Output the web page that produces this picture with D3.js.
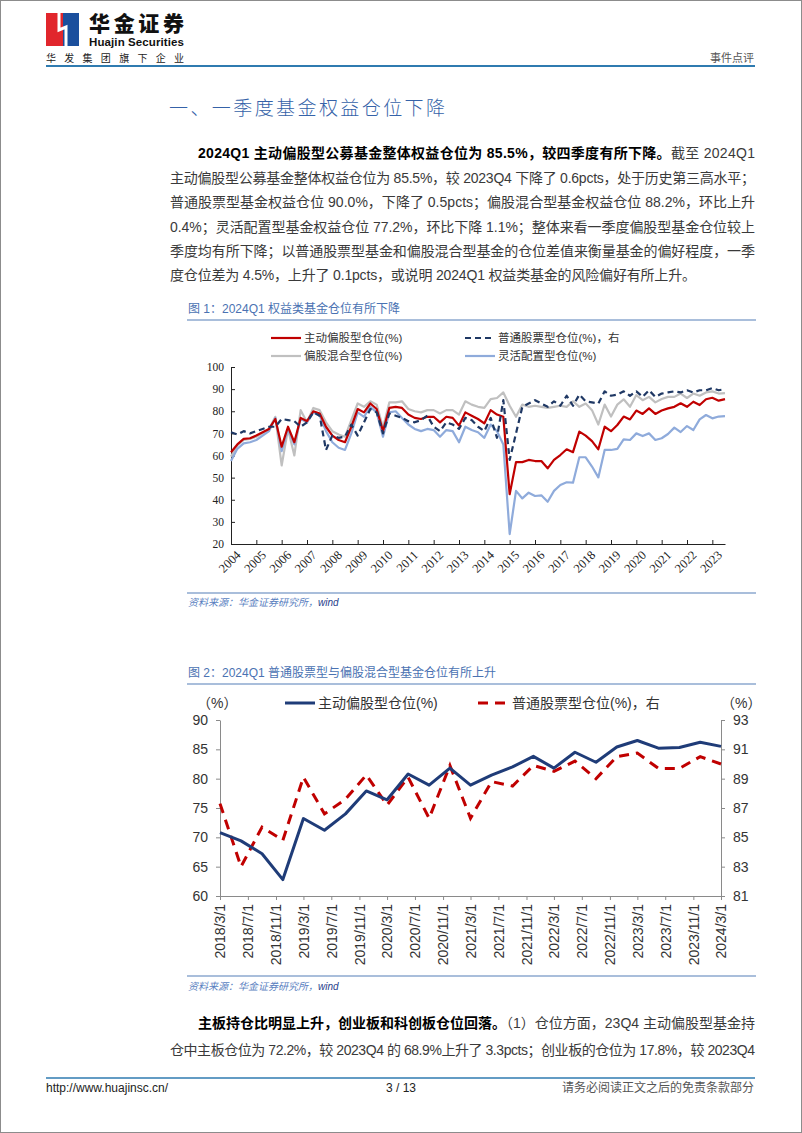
<!DOCTYPE html>
<html>
<head>
<meta charset="utf-8">
<script src="https://cdn.jsdelivr.net/npm/d3@7"></script>
<style>
  html, body { margin: 0; padding: 0; background: #fff; }
  svg { display: block; }
</style>
</head>
<body>
<svg id="page" width="802" height="1133"></svg>
<script>
// ---- figure 1 data : quarterly, 2004Q1 onwards ----
const fig1Start = 2004;
const fig1TickLabels = ['2004','2005','2006','2007','2008','2009','2010','2011','2012','2013',
                        '2014','2015','2016','2017','2018','2019','2020','2021','2022','2023'];
const fig1Active = [
  61.5, 65, 67.5, 67.8,   69, 70.5, 72, 76.5,   64, 73, 66, 77,   75.5, 80, 79, 73,
  69, 67, 66, 73,   81, 79.5, 83.5, 81,   71, 81.5, 82, 81.5,   78.5, 77, 76.5, 77.5,
  77.5, 75, 77.5, 77,   73.5, 79.5, 78, 76.5,   74.5, 80.5, 78.5, 77.5,   42.5, 57, 57, 58,
  57.5, 57.5, 54.2, 58,   60.2, 62.8, 61.5, 70.8,   69, 66.5, 62.8, 73,   71, 73.8, 77.6, 76.3,
  80.3, 78.8, 81.3, 78.8,   80.3, 81.3, 82, 83.6,   82, 84.3, 82.8, 85.4,   86.1, 84.8, 85.5
];
const fig1Hybrid = [
  59.5, 64.5, 67, 67.5,   68.5, 70, 72, 77.5,   55.5, 72, 60, 80.5,   75, 81.5, 80.5, 75,
  71, 69.5, 68.5, 76,   83.5, 82, 84.5, 83,   72.5, 84, 84, 84.5,   81, 80, 79.5, 80.5,
  80.5, 79, 80.5, 80.5,   78.5, 84.5, 83, 82,   81.5, 85.5, 86, 88.5,   82.5, 77.5, 83, 82,
  82.5, 82, 81.5, 82,   82.5, 82, 84.5, 82,   83.5, 80.5, 74, 83,   77.6, 83, 85.4, 82,
  87.3, 85, 86.5, 84,   85.5, 86.5, 86.5, 88,   86, 88, 87, 88.5,   89, 88, 88.2
];
const fig1Stock = [
  70.5, 69.5, 71, 70,   71, 72, 73, 73,   76.5, 76, 75.5, 73,   75, 79.5, 78, 62.5,
  69, 68, 68.5, 74,   69, 75, 81, 79.5,   70, 79, 78, 77,   75.5, 75, 76, 78,
  73, 71, 75, 74,   72, 77, 76, 73,   71, 77, 68, 85,   58, 70, 82, 83.5,
  85, 83.5, 82, 84.5,   82.5, 87, 82.5, 87.5,   84.5, 84, 83.5, 89,   87, 87.5, 89, 87,
  89, 86.5, 89.5, 86.5,   88, 88.5, 89, 88.5,   89.5, 88.5, 89.5, 89.5,   90.5, 89.5, 90
];
const fig1Flexible = [
  57.5, 63, 65.5, 66,   67, 69, 71, 77,   62, 72, 65, 76.5,   75, 79.5, 78, 71,
  66, 63.5, 62.5, 70,   79.5, 77.5, 82, 79.5,   68.5, 79.5, 80, 77,   74, 72, 71, 72,
  71.5, 68.5, 71.5, 71,   66, 73, 71.5, 70.5,   68, 74, 71, 65,   24.5, 44, 40.6, 43.2,
  41.7, 42, 39.1, 44,   46.7, 47.9, 47.7, 59.2,   59.2, 55, 50.1, 62.5,   62.5, 63, 67.3, 67,
  70, 68.8, 70, 67,   67.8, 69.7, 72.6, 70.6,   73.3, 71.5, 76.3, 78.3,   76.8, 77.6, 77.8
];
const fig1Names = ['主动偏股型仓位(%)', '普通股票型仓位(%)，右', '偏股混合型仓位(%)', '灵活配置型仓位(%)'];

// ---- figure 2 data : quarterly ----
const fig2Dates = ['2018-03-01','2018-06-01','2018-09-01','2018-12-01','2019-03-01','2019-06-01','2019-09-01',
                   '2019-12-01','2020-03-01','2020-06-01','2020-09-01','2020-12-01','2021-03-01','2021-06-01',
                   '2021-09-01','2021-12-01','2022-03-01','2022-06-01','2022-09-01','2022-12-01','2023-03-01',
                   '2023-06-01','2023-09-01','2023-12-01','2024-03-01'];
const fig2Active = [70.8, 69.4, 67.2, 62.8, 73.2, 71.2, 74, 77.9, 76.4, 80.8, 78.9, 81.8, 78.9,
                    80.6, 82, 83.8, 81.8, 84.5, 82.8, 85.4, 86.5, 85.2, 85.3, 86.2, 85.5];
const fig2Stock = [87.3, 83.0, 85.7, 84.8, 89.1, 86.6, 87.6, 89.25, 87.2, 89.1, 86.3, 89.9, 86.3,
                   88.8, 88.5, 89.9, 89.5, 90.2, 89.0, 90.5, 90.75, 89.7, 89.7, 90.5, 90.0];
const fig2TickLabels = ['2018/3/1','2018/7/1','2018/11/1','2019/3/1','2019/7/1','2019/11/1','2020/3/1',
                        '2020/7/1','2020/11/1','2021/3/1','2021/7/1','2021/11/1','2022/3/1','2022/7/1',
                        '2022/11/1','2023/3/1','2023/7/1','2023/11/1','2024/3/1'];
const fig2Names = ['主动偏股型仓位(%)', '普通股票型仓位(%)，右'];

const SANS = '"Liberation Sans", Arial, "Noto Sans CJK SC", sans-serif';
const SERIF = '"Liberation Serif", "Times New Roman", serif';
const svg = d3.select('#page');

// page frame
svg.append('rect').attr('x', 0.5).attr('y', 0.5).attr('width', 801).attr('height', 1132)
   .attr('fill', 'none').attr('stroke', '#8c8c8c');

// ---- header ----
const logo = svg.append('g');
logo.append('rect').attr('x', 46).attr('y', 13).attr('width', 17).attr('height', 33).attr('fill', '#e1262c');
logo.append('rect').attr('x', 63).attr('y', 13).attr('width', 16).attr('height', 33).attr('fill', '#1b4f9d');
logo.append('path').attr('d', 'M59,13 L59,30 L66,27 L66,46')
    .attr('fill', 'none').attr('stroke', '#fff').attr('stroke-width', 3);
svg.append('text').attr('x', 89).attr('y', 31).text('华金证券')
   .style('font-family', '"Noto Sans CJK SC", sans-serif').style('font-weight', 900)
   .style('font-size', '21px').attr('textLength', 95).attr('fill', '#111');
svg.append('text').attr('x', 89).attr('y', 46).text('Huajin Securities')
   .style('font-family', SANS).style('font-weight', 'bold').style('font-size', '11.5px')
   .attr('textLength', 95).attr('fill', '#111');
svg.append('text').attr('x', 46).attr('y', 62).text('华发集团旗下企业')
   .style('font-family', SANS).style('font-size', '10px').attr('textLength', 138).attr('fill', '#222');
svg.append('text').attr('x', 754).attr('y', 62).attr('text-anchor', 'end').text('事件点评')
   .style('font-family', SANS).style('font-size', '11px').attr('fill', '#555');
svg.append('line').attr('x1', 46).attr('x2', 755).attr('y1', 66).attr('y2', 66)
   .attr('stroke', '#2f7bb0').attr('stroke-width', 2);

svg.append('text').attr('x', 169).attr('y', 115).text('一、一季度基金权益仓位下降')
   .style('font-family', '"Noto Sans CJK SC", sans-serif').style('font-weight', 300)
   .style('font-size', '19px').attr('textLength', 276).attr('fill', '#3562a8');

// ---- body text ----
function textLine(x, y, parts, width) {
  const t = svg.append('text').attr('x', x).attr('y', y)
               .style('font-family', SANS).style('font-size', '14px');
  parts.forEach(p => {
    t.append('tspan').text(p[0])
     .attr('fill', p[1] ? '#000' : '#3a3a3a')
     .style('font-weight', p[1] ? 'bold' : 'normal');
  });
  if (width) t.attr('textLength', width).attr('lengthAdjust', 'spacing');
  return t;
}

textLine(198, 158, [['2024Q1 主动偏股型公募基金整体权益仓位为 85.5%，较四季度有所下降。', true], ['截至 2024Q1', false]], 557);
textLine(170, 182.5, [['主动偏股型公募基金整体权益仓位为 85.5%，较 2023Q4 下降了 0.6pcts，处于历史第三高水平；', false]], 585);
textLine(170, 207, [['普通股票型基金权益仓位 90.0%，下降了 0.5pcts；偏股混合型基金权益仓位 88.2%，环比上升', false]], 585);
textLine(170, 231.5, [['0.4%；灵活配置型基金权益仓位 77.2%，环比下降 1.1%；整体来看一季度偏股型基金仓位较上', false]], 585);
textLine(170, 256, [['季度均有所下降；以普通股票型基金和偏股混合型基金的仓位差值来衡量基金的偏好程度，一季', false]], 585);
textLine(170, 280, [['度仓位差为 4.5%，上升了 0.1pcts，或说明 2024Q1 权益类基金的风险偏好有所上升。', false]], 526);

textLine(198, 1028, [['主板持仓比明显上升，创业板和科创板仓位回落。', true], ['（1）仓位方面，23Q4 主动偏股型基金持', false]], 557);
textLine(170, 1055, [['仓中主板仓位为 72.2%，较 2023Q4 的 68.9%上升了 3.3pcts；创业板的仓位为 17.8%，较 2023Q4', false]], 585);

// chart frame helpers
function chartTitle(y, label, lineY) {
  svg.append('text').attr('x', 188).attr('y', y).text(label)
     .style('font-family', SANS).style('font-size', '12px').attr('fill', '#4a72b2');
  svg.append('line').attr('x1', 187).attr('x2', 756).attr('y1', lineY).attr('y2', lineY)
     .attr('stroke', '#a9bedb').attr('stroke-width', 2);
}
function chartSource(lineY, y) {
  svg.append('line').attr('x1', 187).attr('x2', 756).attr('y1', lineY).attr('y2', lineY)
     .attr('stroke', '#a9bedb').attr('stroke-width', 2);
  const t = svg.append('text').attr('x', 188).attr('y', y)
     .style('font-family', SANS).style('font-size', '10px').style('font-style', 'italic');
  t.append('tspan').text('资料来源：华金证券研究所，').attr('fill', '#5a7fbf');
  t.append('tspan').text('wind').attr('fill', '#1f3d8a');
}

// ---- figure 1 ----
chartTitle(313, '图 1：2024Q1 权益类基金仓位有所下降', 320);

const x1 = d3.scaleLinear().domain([0, 78]).range([231, 725]);
const y1 = d3.scaleLinear().domain([20, 100]).range([544, 367]);
const g1 = svg.append('g');

const ax1 = g1.append('g').attr('transform', 'translate(0,544)')
  .call(d3.axisBottom(x1).tickValues(d3.range(0, 77, 4)).tickSize(-4).tickSizeOuter(0)
          .tickFormat((d, i) => fig1TickLabels[i]));
ax1.selectAll('text').attr('transform', 'rotate(-45)').attr('text-anchor', 'end')
   .attr('dx', '-0.1em').attr('dy', '0.75em').attr('y', 6)
   .style('font-family', SERIF).style('font-size', '12.5px').attr('fill', '#222');
const ay1 = g1.append('g').attr('transform', 'translate(231,0)')
  .call(d3.axisLeft(y1).tickValues(d3.range(20, 101, 10)).tickSize(-4).tickSizeOuter(0).tickPadding(7));
ay1.selectAll('text').style('font-family', SERIF).style('font-size', '11.5px').attr('fill', '#222');
g1.selectAll('.domain, .tick line').attr('stroke', '#222');

const line1 = d3.line().x((d, i) => x1(i)).y(d => y1(d));
const fig1Series = [
  {data: fig1Hybrid, color: '#c0c0c0', dash: null},
  {data: fig1Flexible, color: '#8fabdb', dash: null},
  {data: fig1Active, color: '#c00000', dash: null},
  {data: fig1Stock, color: '#1f3864', dash: '6,4'}
];
fig1Series.forEach(s => {
  g1.append('path').datum(s.data).attr('d', line1).attr('fill', 'none')
    .attr('stroke', s.color).attr('stroke-width', 2.2).attr('stroke-dasharray', s.dash)
    .attr('stroke-linejoin', 'round');
});

// legend 1
const leg1 = [
  {x: 271, y: 338, name: fig1Names[0], color: '#c00000', dash: null},
  {x: 465, y: 338, name: fig1Names[1], color: '#1f3864', dash: '6,4'},
  {x: 271, y: 356, name: fig1Names[2], color: '#c0c0c0', dash: null},
  {x: 465, y: 356, name: fig1Names[3], color: '#8fabdb', dash: null}
];
leg1.forEach(l => {
  g1.append('line').attr('x1', l.x).attr('x2', l.x + 30).attr('y1', l.y).attr('y2', l.y)
    .attr('stroke', l.color).attr('stroke-width', 2.2).attr('stroke-dasharray', l.dash);
  g1.append('text').attr('x', l.x + 33).attr('y', l.y + 4).text(l.name)
    .style('font-family', SANS).style('font-size', '11.5px').attr('fill', '#333');
});

chartSource(593, 606);

// ---- figure 2 ----
chartTitle(677, '图 2：2024Q1 普通股票型与偏股混合型基金仓位有所上升', 684);

const parse = d3.timeParse('%Y-%m-%d');
const parseTick = d3.timeParse('%Y/%m/%d');
const x2 = d3.scaleTime().domain([parse('2018-03-01'), parse('2024-03-01')]).range([220, 721]);
const yL = d3.scaleLinear().domain([60, 90]).range([896, 720]);
const yR = d3.scaleLinear().domain([81, 93]).range([896, 720]);
const g2 = svg.append('g');

const ax2 = g2.append('g').attr('transform', 'translate(0,896)')
  .call(d3.axisBottom(x2).tickValues(fig2TickLabels.map(s => parseTick(s))).tickSize(4).tickSizeOuter(0)
          .tickFormat((d, i) => fig2TickLabels[i]));
ax2.selectAll('text').attr('transform', 'rotate(-90)').attr('text-anchor', 'end')
   .attr('x', -8).attr('y', 0).attr('dy', '0.35em')
   .style('font-family', SANS).style('font-size', '14px').attr('fill', '#333');
const ayL = g2.append('g').attr('transform', 'translate(220,0)')
  .call(d3.axisLeft(yL).tickValues(d3.range(60, 91, 5)).tickSize(4).tickSizeOuter(0).tickPadding(8));
const ayR = g2.append('g').attr('transform', 'translate(721,0)')
  .call(d3.axisRight(yR).tickValues(d3.range(81, 94, 2)).tickSize(4).tickSizeOuter(0).tickPadding(8));
[ayL, ayR].forEach(a => a.selectAll('text').style('font-family', SANS).style('font-size', '14px').attr('fill', '#333'));
g2.selectAll('.domain, .tick line').attr('stroke', '#8a8a8a');

const fig2Rows = fig2Dates.map((d, i) => ({date: parse(d), active: fig2Active[i], stock: fig2Stock[i]}));
g2.append('path').datum(fig2Rows)
  .attr('d', d3.line().x(d => x2(d.date)).y(d => yR(d.stock)))
  .attr('fill', 'none').attr('stroke', '#c00000').attr('stroke-width', 3).attr('stroke-dasharray', '10,7');
g2.append('path').datum(fig2Rows)
  .attr('d', d3.line().x(d => x2(d.date)).y(d => yL(d.active)))
  .attr('fill', 'none').attr('stroke', '#1f3c78').attr('stroke-width', 3).attr('stroke-linejoin', 'round');

// legend 2
g2.append('text').attr('x', 197).attr('y', 708).text('（%）')
  .style('font-family', SANS).style('font-size', '14px').attr('fill', '#333');
g2.append('text').attr('x', 721).attr('y', 708).text('（%）')
  .style('font-family', SANS).style('font-size', '14px').attr('fill', '#333');
g2.append('line').attr('x1', 285).attr('x2', 315).attr('y1', 703).attr('y2', 703)
  .attr('stroke', '#1f3c78').attr('stroke-width', 3);
g2.append('text').attr('x', 318).attr('y', 708).text(fig2Names[0])
  .style('font-family', SANS).style('font-size', '14px').attr('fill', '#333');
g2.append('line').attr('x1', 478).attr('x2', 508).attr('y1', 703).attr('y2', 703)
  .attr('stroke', '#c00000').attr('stroke-width', 3).attr('stroke-dasharray', '10,7');
g2.append('text').attr('x', 512).attr('y', 708).text(fig2Names[1])
  .style('font-family', SANS).style('font-size', '14px').attr('fill', '#333');

chartSource(976, 990);

// ---- footer ----
svg.append('line').attr('x1', 46).attr('x2', 755).attr('y1', 1078).attr('y2', 1078)
   .attr('stroke', '#2f7bb0').attr('stroke-width', 1.5);
svg.append('text').attr('x', 46).attr('y', 1092).text('http://www.huajinsc.cn/')
   .style('font-family', SANS).style('font-size', '12px').attr('fill', '#222');
svg.append('text').attr('x', 401).attr('y', 1092).attr('text-anchor', 'middle').text('3 / 13')
   .style('font-family', SANS).style('font-size', '12px').attr('fill', '#222');
svg.append('text').attr('x', 754).attr('y', 1092).attr('text-anchor', 'end').text('请务必阅读正文之后的免责条款部分')
   .style('font-family', SANS).style('font-size', '12px').attr('fill', '#555');
</script>
</body>
</html>
